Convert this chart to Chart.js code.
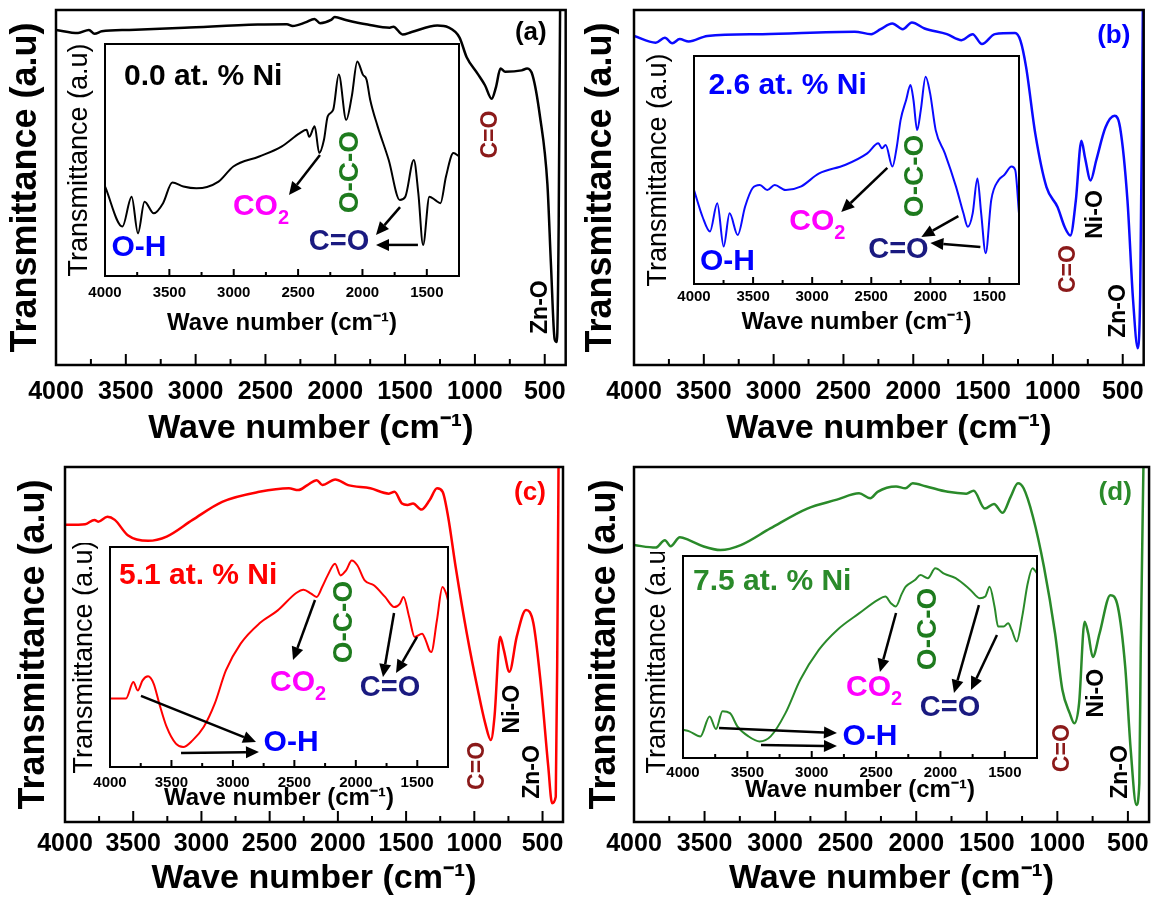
<!DOCTYPE html>
<html>
<head>
<meta charset="utf-8">
<script src="https://cdn.jsdelivr.net/npm/chart.js@4.4.1/dist/chart.umd.min.js"></script>
<style>
body{margin:0;background:#fff;}
#wrap{position:relative;width:1156px;height:899px;overflow:hidden;background:#fff;}
#wrap canvas{position:absolute;}
</style>
</head>
<body>
<div id="wrap"></div>
<script>
// ---- data (wave number, transmittance in % of frame height) ----
const waveMainA=[4000,3842,3764,3724,3672,3475,3081,2556,2346,2306,2214,2149,2109,2030,2004,1925,1768,1610,1584,1518,1453,1269,1190,1111,1059,980,928,880,849,817,783,665,626,587,534,481,455,429,413,400,390,380];
const transMainA=[94.4,93.5,94.4,93.3,94.0,94.4,95.0,95.9,96.0,95.5,96.5,97.5,96.3,97.2,98.0,97.2,95.9,95.0,95.3,93.1,93.8,95.6,95.1,92.3,86.7,82.0,78.8,75.0,78.3,83.5,82.6,83.0,83.5,81.6,70.0,51.0,27.9,7.3,6.5,40,100,110];

const waveMainB=[4000,3845,3779,3726,3673,3608,3475,3080,2419,2301,2234,2150,2076,2010,1919,1759,1654,1575,1508,1416,1271,1232,1192,1126,1046,967,915,875,836,796,770,730,690,624,558,519,466,426,392,375,362,355];
const transMainB=[92.7,90.8,92.2,90.6,91.8,91.1,92.7,93.2,93.9,93.2,94.6,96.2,94.6,96.5,94.8,93.2,91.5,93.2,90.4,93.2,93.5,91.3,83.9,65.1,50.1,44.5,38.8,36.5,46.3,63.2,58.4,52.0,57.6,66.9,70.2,66.9,46.3,18.3,4.7,20,70,105];

const waveMainC=[4000,3852,3784,3757,3689,3635,3540,3391,3255,3065,2848,2576,2359,2291,2223,2155,2114,2019,1925,1762,1626,1585,1530,1490,1449,1387,1327,1273,1232,1192,1137,1055,974,920,879,852,811,784,743,689,621,567,513,458,430,403,390,382];
const transMainC=[83.7,83.9,85.1,84.6,86.0,85.1,80.8,79.2,80.4,85.1,90.2,93.0,94.0,93.5,94.9,96.3,94.9,96.5,94.9,94.0,92.5,93.0,89.7,89.3,89.7,88.0,90.7,94.0,93.0,86.0,71.9,53.1,37.2,27.8,23.1,29.7,52.2,48.5,42.3,52.2,59.7,56.0,39.0,15.6,5.3,7.1,57.8,105];

const waveMainD=[4000,3846,3781,3741,3675,3610,3506,3387,3243,3034,2772,2562,2405,2326,2274,2143,2077,2025,1934,1776,1645,1593,1514,1449,1388,1331,1279,1239,1173,1095,1016,964,912,880,846,807,781,749,701,624,571,519,480,440,419,409,388];
const transMainD=[78.0,77.3,79.4,77.7,80.2,79.4,77.6,76.6,78.0,82.7,88.3,90.8,92.6,91.2,93.0,94.5,94.0,95.4,94.6,93.0,92.5,93.3,88.3,89.6,87.1,91.6,95.4,94.0,86.0,71.9,53.1,37.2,30.6,27.8,33.4,56.4,53.1,46.5,53.1,63.9,60.6,43.7,20.3,4.8,10.9,48.5,105];

const waveInsetA=[4000,3865,3793,3744,3693,3621,3549,3477,3391,3290,3118,3003,2802,2629,2486,2434,2414,2371,2336,2299,2270,2227,2184,2126,2083,2040,1997,1968,1940,1882,1796,1710,1667,1601,1566,1529,1480,1437,1394,1351,1293,1250];
const transInsetA=[38.6,21.3,34.2,18.4,32.0,27.0,31.4,40.3,38.6,37.8,40.7,47.2,51.5,55.8,61.6,63.0,60.0,64.5,53.0,58.7,68.8,71.7,86.8,67.3,77.4,92.5,86.8,84.6,76.0,64.5,50.0,32.8,34.2,50.0,35.7,13.4,34.2,32.8,31.4,42.9,53.0,51.6];

const waveInsetB=[4000,3928,3865,3803,3749,3699,3630,3568,3505,3443,3380,3317,3223,3098,2941,2722,2534,2440,2409,2378,2321,2284,2252,2205,2168,2143,2112,2081,2040,2002,1955,1877,1783,1720,1683,1642,1602,1570,1532,1485,1422,1375,1313,1282,1250];
const transInsetB=[41.2,29.5,23.0,35.4,16.4,31.0,21.5,33.9,42.0,43.4,41.2,43.4,41.2,42.7,48.5,52.2,57.3,61.7,59.5,61.0,51.5,60.2,71.9,80.7,87.3,80.7,67.5,76.3,90.9,83.6,67.5,57.3,42.7,31.0,25.1,31.0,46.3,31.0,13.5,36.8,45.6,47.8,51.5,50.0,31.0];

const waveInsetC=[4000,3870,3810,3774,3735,3690,3645,3599,3539,3464,3404,3328,3238,3148,3057,2937,2786,2635,2485,2425,2364,2319,2274,2229,2169,2124,2079,2033,1988,1928,1853,1762,1687,1642,1612,1566,1521,1461,1431,1401,1386,1340,1295,1265,1250];
const transInsetC=[31.1,31.1,38.6,34.8,39.4,41.2,37.9,28.8,18.2,10.6,9.1,12.1,18.2,28.8,43.9,56.1,65.2,71.2,79.1,80.6,78.8,77.3,81.8,87.1,92.4,87.1,89.4,93.9,91.7,84.8,82.6,77.3,72.7,74.2,77.3,68.2,59.1,60.6,57.6,53.0,52.3,66.7,81.8,78.8,75.8];

const waveInsetD=[4000,3951,3865,3793,3744,3693,3635,3578,3491,3405,3319,3204,3089,2945,2802,2630,2486,2428,2385,2348,2299,2270,2198,2155,2098,2040,1968,1882,1767,1695,1652,1618,1580,1552,1509,1474,1446,1408,1365,1322,1285,1250];
const transInsetD=[14.0,13.2,10.7,20.6,14.3,23.1,22.2,15.7,10.7,8.2,10.7,22.2,38.7,53.5,63.4,71.7,78.3,79.9,76.6,75.0,81.5,84.8,88.1,90.6,89.0,93.9,91.1,89.0,83.2,79.1,79.9,84.8,75.0,65.1,65.1,66.7,63.4,57.7,70.0,86.5,93.9,91.4];

// tick labels
const ticksMain=[4000,3500,3000,2500,2000,1500,1000,500];
const ticksInset=[4000,3500,3000,2500,2000,1500];

// ---- labels: [text, wave number, transmittance, colour, size, vertical, align, subscript] ----
const darkRed="#8b1a1a", navy="#1a1a80", bondGreen="#1e7b1e", magenta="#ff00ff", blue="#0000ff";
const notesMainA=[["(a)",600,93.5,"#000",26,false],["C=O",885,64.9,darkRed,23,true],["Zn-O",528,16.3,"#000",23,true]];
const notesMainB=[["(b)",564,92.7,blue,26,false],["C=O",885,27,darkRed,23,true],["Ni-O",692,42.4,"#000",23,true],["Zn-O",528,15.2,"#000",23,true]];
const notesMainC=[["(c)",592,92.7,"#ff0000",26,false],["C=O",973,15.8,darkRed,23,true],["Ni-O",716,31.8,"#000",23,true],["Zn-O",570,14.1,"#000",23,true]];
const notesMainD=[["(d)",590,92.7,"#2a8a2a",26,false],["C=O",965,20.8,darkRed,23,true],["Ni-O",718,36.3,"#000",23,true],["Zn-O",548,14.1,"#000",23,true]];

const notesInsetA=[["0.0 at. % Ni",3852,85.8,"#000",30,false,"left"],["O-H",3736,12.1,blue,30,false],["CO",3006,29.7,magenta,30,false,"left","2"],["O-C-O",2097,44.8,bondGreen,28,true],["C=O",2182,14.7,navy,29,false]];
const notesInsetB=[["2.6 at. % Ni",3878,86.8,blue,30,false,"left"],["O-H",3717,9.6,blue,30,false],["CO",3193,27.2,magenta,30,false,"left","2"],["O-C-O",2127,47.4,bondGreen,28,true],["C=O",2270,14.9,navy,29,false]];
const notesInsetC=[["5.1 at. % Ni",3927,86.8,"#ff0000",30,false,"left"],["CO",2698,38.2,magenta,30,false,"left","2"],["O-C-O",2096,65.9,bondGreen,28,true],["C=O",1722,35.9,navy,29,false],["O-H",2527,10.9,blue,30,false]];
const notesInsetD=[["7.5 at. % Ni",3922,87.1,"#2a8a2a",30,false,"left"],["CO",2734,34.7,magenta,30,false,"left","2"],["O-C-O",2097,63.9,bondGreen,28,true],["C=O",1926,24.8,navy,29,false],["O-H",2547,10.4,blue,30,false]];

// arrows: [from wave, from T, to wave, to T]
const arrowsA=[[2330,52.2,2571,34.9],[1708,29.7,1895,17.7],[1569,13.4,1895,13.4]];
const arrowsB=[[2364,50.9,2754,31.6],[1763,29.8,2076,20.6],[1577,16.2,2000,18]];
const arrowsC=[[2332,75.9,2511,48.6],[1689,70,1779,40.9],[1502,59.1,1673,42.7],[3748,32.3,2812,11.4],[3422,6.4,2788,6.8]];
const arrowsD=[[2345,71.8,2470,42.6],[1701,75.7,1895,32.2],[1561,60.9,1763,33.7],[3720,14.9,2804,12.4],[3394,6.4,2804,5.9]];

const FAM='"Liberation Sans", Arial, sans-serif';
Chart.defaults.font.family=FAM;
Chart.defaults.color="#000";

// frame, inward ticks, labels and arrows
const framePlugin={
id:"frame",
beforeDraw(chart,args,o){
if(!o.fill) return;
const a=chart.chartArea,c=chart.ctx;
c.save();c.fillStyle="#fff";c.fillRect(a.left,a.top,a.width,a.height);c.restore();
},
afterDraw(chart,args,o){
const c=chart.ctx,a=chart.chartArea,x=chart.scales.x,y=chart.scales.y;
c.save();
c.strokeStyle="#000";
c.lineWidth=o.tw;
for(let v=o.from;v<4000;v+=250){
const px=x.getPixelForValue(v);
const len=v%500===0?o.major:o.minor;
c.beginPath();c.moveTo(px,a.bottom);c.lineTo(px,a.bottom-len);c.stroke();
}
c.lineWidth=o.lw;
c.strokeRect(a.left,a.top,a.width,a.height);

o.notes.forEach(n=>{
const [t,wx,ty,col,size,rot,align,sub]=n;
c.save();
c.translate(x.getPixelForValue(wx),y.getPixelForValue(ty));
if(rot) c.rotate(-Math.PI/2);
c.font="bold "+size+"px "+FAM;
c.fillStyle=col;c.textBaseline="middle";c.textAlign=align||"center";
c.fillText(t,0,0);
if(sub){
const w=c.measureText(t).width;
c.font="bold "+Math.round(size*0.68)+"px "+FAM;
c.textAlign="left";
c.fillText(sub,align==="left"?w:w/2,size*0.38);
}
c.restore();
});

c.strokeStyle="#000";c.fillStyle="#000";c.lineWidth=2.5;
o.arrows.forEach(r=>{
const x1=x.getPixelForValue(r[0]),y1=y.getPixelForValue(r[1]);
const x2=x.getPixelForValue(r[2]),y2=y.getPixelForValue(r[3]);
const ang=Math.atan2(y2-y1,x2-x1),hl=13,hw=6;
const bx=x2-hl*Math.cos(ang),by=y2-hl*Math.sin(ang);
c.beginPath();c.moveTo(x1,y1);c.lineTo(bx,by);c.stroke();
c.beginPath();c.moveTo(x2,y2);
c.lineTo(bx+hw*Math.sin(ang),by-hw*Math.cos(ang));
c.lineTo(bx-hw*Math.sin(ang),by+hw*Math.cos(ang));
c.closePath();c.fill();
});
c.restore();
}
};
Chart.register(framePlugin);

const wrap=document.getElementById("wrap");

function makeChart(p){
const cv=document.createElement("canvas");
cv.width=p.w;cv.height=p.h;
cv.style.left=p.left+"px";cv.style.top=p.top+"px";
cv.style.width=p.w+"px";cv.style.height=p.h+"px";
wrap.appendChild(cv);
const inset=p.inset;
const tickList=inset?ticksInset:ticksMain;
new Chart(cv,{
type:"line",
data:{datasets:[{
data:p.wave.map((w,i)=>({x:w,y:p.trans[i]})),
borderColor:p.color,
borderWidth:inset?2:2.5,
pointRadius:0,
cubicInterpolationMode:"monotone",
fill:false
}]},
options:{
responsive:false,
animation:false,
events:[],
layout:{padding:{top:p.pt,right:p.pr,left:0,bottom:0}},
plugins:{
legend:{display:false},
tooltip:{enabled:false},
frame:{
fill:inset,
lw:inset?2:2.5,
tw:2,
major:inset?7:11,
minor:inset?4:6,
from:inset?1500:500,
notes:p.notes,
arrows:p.arrows||[]
}
},
scales:{
x:{
type:"linear",
reverse:true,
min:inset?1250:350,
max:4000,
afterBuildTicks:s=>{s.ticks=tickList.map(v=>({value:v}));},
afterFit:s=>{s.height=p.xh;},
grid:{display:false,drawTicks:false},
border:{display:false},
ticks:{autoSkip:false,maxRotation:0,padding:p.tp,color:"#000",
callback:v=>String(v),
font:{size:inset?15:25,weight:"bold"}},
title:{display:true,text:"Wave number (cm\u207B\u00B9)",color:"#000",
font:{size:inset?24:34,weight:"bold",lineHeight:inset?1:1.2},
padding:{top:0,bottom:p.xtp}}
},
y:{
min:0,max:100,
afterFit:s=>{s.width=p.yw;},
grid:{display:false,drawTicks:false},
border:{display:false},
ticks:{display:false},
title:{display:true,text:"Transmittance (a.u)",color:"#000",
font:inset?{size:27,weight:"normal",lineHeight:1}:{size:36,weight:"bold",lineHeight:1.2},
padding:{top:p.ytp,bottom:0}}
}
}
}
});
}

// main panels
makeChart({left:0,top:0,w:578,h:450,pt:10,pr:10,yw:56,xh:85,tp:12,xtp:1,ytp:4,wave:waveMainA,trans:transMainA,color:"#000",notes:notesMainA});
makeChart({left:578,top:0,w:578,h:450,pt:10,pr:10,yw:56,xh:85,tp:12,xtp:1,ytp:1,wave:waveMainB,trans:transMainB,color:"#0a0aff",notes:notesMainB});
makeChart({left:0,top:450,w:578,h:449,pt:17,pr:15,yw:65,xh:77,tp:7,xtp:0,ytp:12,wave:waveMainC,trans:transMainC,color:"#ff0000",notes:notesMainC});
makeChart({left:578,top:450,w:578,h:449,pt:17,pr:6,yw:56,xh:77,tp:7,xtp:0,ytp:5,wave:waveMainD,trans:transMainD,color:"#2a8a2a",notes:notesMainD});

// insets
makeChart({inset:true,left:63,top:40,w:400,h:295,pt:4,pr:4,yw:42,xh:59,tp:8,xtp:0,ytp:3,wave:waveInsetA,trans:transInsetA,color:"#000",notes:notesInsetA,arrows:arrowsA});
makeChart({inset:true,left:645,top:52,w:378,h:282,pt:4,pr:4,yw:49,xh:50,tp:4,xtp:0,ytp:0,wave:waveInsetB,trans:transInsetB,color:"#0a0aff",notes:notesInsetB,arrows:arrowsB});
makeChart({inset:true,left:68,top:543,w:384,h:267,pt:4,pr:4,yw:42,xh:43,tp:7,xtp:0,ytp:3,wave:waveInsetC,trans:transInsetC,color:"#ff0000",notes:notesInsetC,arrows:arrowsC});
makeChart({inset:true,left:641,top:552,w:400,h:250,pt:4,pr:4,yw:42,xh:44,tp:6,xtp:0,ytp:3,wave:waveInsetD,trans:transInsetD,color:"#2a8a2a",notes:notesInsetD,arrows:arrowsD});
</script>
</body>
</html>
